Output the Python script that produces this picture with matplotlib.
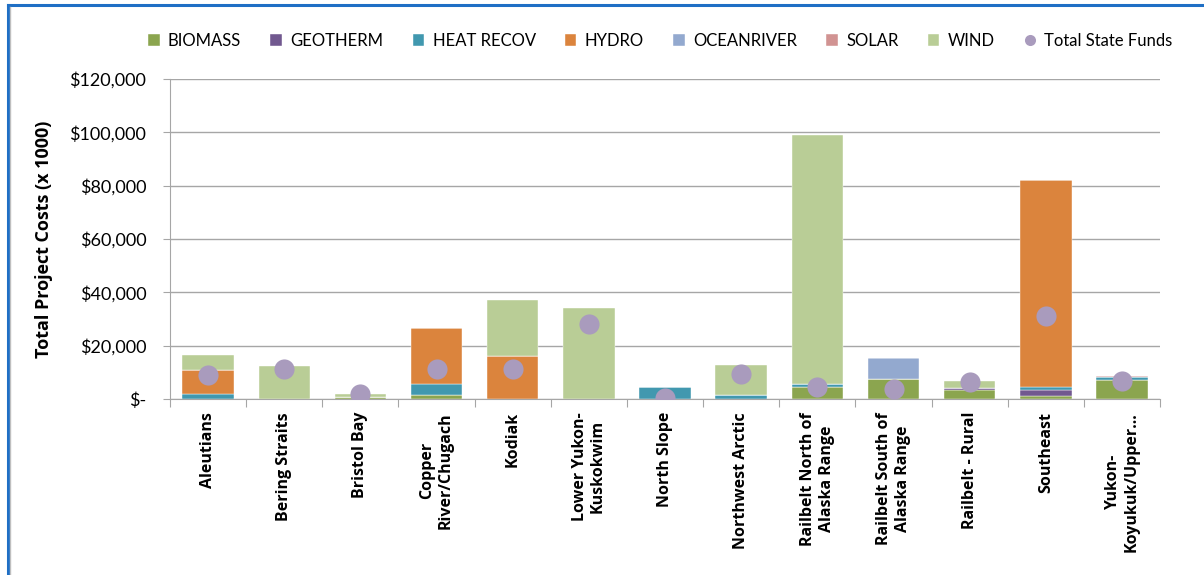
import numpy as np
import matplotlib.pyplot as plt
from matplotlib.lines import Line2D
from matplotlib.ticker import FuncFormatter

plt.rcParams['font.family'] = ['Lato', 'DejaVu Sans']
BOLD = ['Open Sans', 'DejaVu Sans']

regions = ['Aleutians', 'Bering Straits', 'Bristol Bay', 'Copper\nRiver/Chugach', 'Kodiak',
           'Lower Yukon-\nKuskokwim', 'North Slope', 'Northwest Arctic',
           'Railbelt North of\nAlaska Range', 'Railbelt South of\nAlaska Range',
           'Railbelt - Rural', 'Southeast', 'Yukon-\nKoyukuk/Upper\u2026']

biomass    = [0, 0, 600, 1600, 0, 0, 0, 0, 4600, 7400, 3400, 1300, 7200]
geotherm   = [0, 0, 0, 0, 0, 0, 0, 0, 0, 0, 700, 2200, 0]
heat_recov = [2000, 0, 0, 4000, 0, 0, 4400, 1600, 1100, 0, 0, 1000, 1000]
hydro      = [8700, 0, 0, 21200, 16000, 0, 0, 0, 0, 0, 0, 77600, 0]
oceanriver = [0, 0, 0, 0, 0, 0, 0, 0, 0, 8000, 0, 0, 0]
solar      = [0, 0, 0, 0, 0, 0, 0, 0, 0, 0, 0, 0, 400]
wind       = [5900, 12400, 1400, 0, 21200, 34100, 0, 11000, 93300, 0, 2800, 0, 0]
state_funds = [8900, 11400, 1900, 11400, 11400, 28200, 400, 9400, 4400, 3900, 6200, 31100, 6600]

series = [('BIOMASS', biomass, '#8BA54F'),
          ('GEOTHERM', geotherm, '#71588F'),
          ('HEAT RECOV', heat_recov, '#4198AF'),
          ('HYDRO', hydro, '#DB843D'),
          ('OCEANRIVER', oceanriver, '#93A9CF'),
          ('SOLAR', solar, '#D19392'),
          ('WIND', wind, '#B9CD96')]

fig = plt.figure(figsize=(12.04, 5.75), dpi=100)
ax = fig.add_axes([0.1412, 0.3061, 0.8223, 0.5565])

x = np.arange(len(regions))
bottom = np.zeros(len(regions))
handles = []
for name, vals, col in series:
    vals = np.array(vals, dtype=float)
    h = ax.bar(x, vals, 0.675, bottom=bottom, color=col, label=name,
               edgecolor='white', linewidth=0.3, zorder=2)
    handles.append(h)
    bottom += vals

dots, = ax.plot(x, state_funds, 'o', color='#A99BBD', markersize=14.5, markeredgewidth=0,
                label='Total State Funds', zorder=3)
handles.append(dots)

ax.set_xlim(-0.5, len(regions) - 0.5)
ax.set_ylim(0, 120000)
ax.set_yticks(np.arange(0, 120001, 20000))
ax.yaxis.set_major_formatter(FuncFormatter(lambda v, p: '$-' if v == 0 else f'${v:,.0f}'))
ax.grid(axis='y', color='#A6A6A6', linewidth=1, zorder=0)
ax.set_axisbelow(True)

# category boundaries get the tick marks, names are written under the bar centres
ax.set_xticks(np.arange(-0.5, len(regions), 1.0))
ax.set_xticklabels([])
ax.tick_params(axis='x', length=6, color='#A6A6A6', direction='out')
for i, name in enumerate(regions):
    ax.annotate(name, xy=(i, 0), xycoords=('data', 'axes fraction'),
                xytext=(0, -13), textcoords='offset pixels',
                rotation=90, ha='center', va='top', multialignment='center',
                fontsize=11.5, fontweight='bold', family=BOLD, linespacing=1.2)
ax.tick_params(axis='y', length=5, color='#A6A6A6', labelsize=13, pad=12)

for s in ['top', 'right']:
    ax.spines[s].set_visible(False)
for s in ['left', 'bottom']:
    ax.spines[s].set_color('#A6A6A6')

ax.set_ylabel('Total Project Costs (x 1000)', fontsize=13, fontweight='bold',
              family=BOLD, labelpad=12)

ax.legend(handles=handles, loc='lower center', bbox_to_anchor=(0.495, 1.048), ncol=8,
          frameon=False, fontsize=12, handlelength=0.7, handleheight=0.7,
          handletextpad=0.5, columnspacing=1.75, markerscale=0.55)

# frame
fig.add_artist(Line2D([0.0065, 0.0065], [0, 0.992], color='#1F6FC5', linewidth=2.2))
fig.add_artist(Line2D([0.0065, 1.0], [0.992, 0.992], color='#1F6FC5', linewidth=2.2))
fig.add_artist(Line2D([0.0085, 0.0085], [0, 0.988], color='#BFBFBF', linewidth=1))

fig.savefig('out.png', dpi=100, facecolor='white')
